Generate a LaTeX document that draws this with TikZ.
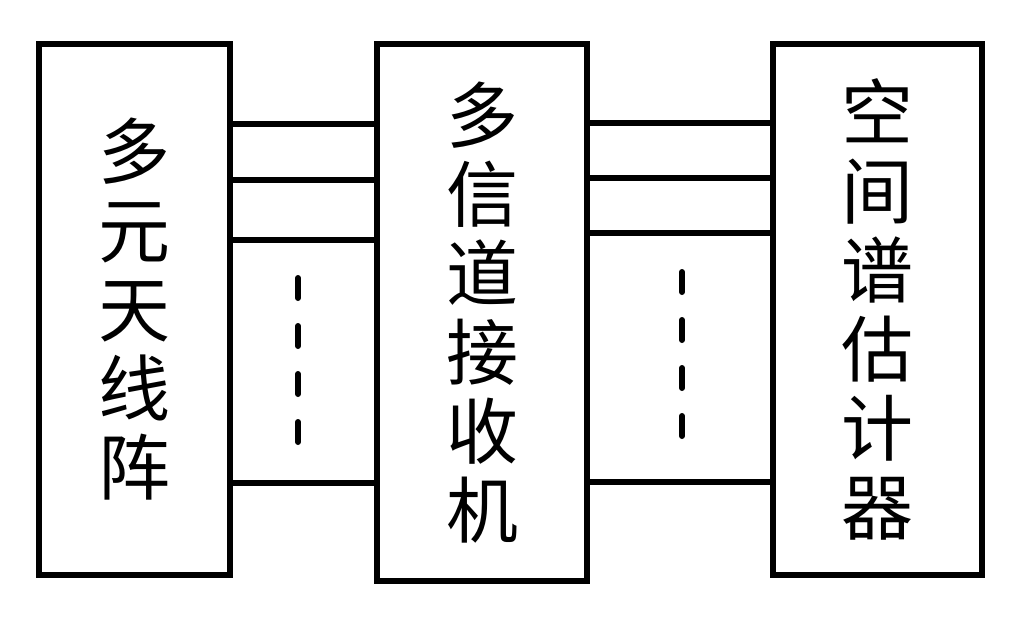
\documentclass[tikz,border=0pt]{standalone}
\usepackage{fontspec}
\setmainfont{Noto Sans CJK SC}
\usetikzlibrary{positioning}

\begin{document}
\begin{tikzpicture}[x=0.5pt, y=-0.5pt,
  blk/.style={draw=black, line width=3pt, inner sep=0pt, align=center,
              font=\fontsize{36}{39.5}\selectfont},
  lnk/.style={line width=3pt},
  dots/.style={line width=3pt, line cap=round, dash pattern=on 10pt off 14pt}]
  \useasboundingbox (0,0) rectangle (1024,618);
  \node[blk, minimum width=95.5pt, minimum height=265.5pt] (ant) at (134.5,309.5)
    {多\\元\\天\\线\\阵};
  \node[blk, minimum width=105pt, minimum height=268.5pt] (rcv) at (482,312.5)
    {多\\信\\道\\接\\收\\机};
  \node[blk, minimum width=104.5pt, minimum height=265.5pt] (est) at (877.5,309.5)
    {空\\间\\谱\\估\\计\\器};
  % channels between array and receiver
  \foreach \y in {124,180,240,483}
    \draw[lnk] (ant.east |- 0,\y) -- (rcv.west |- 0,\y);
  % channels between receiver and estimator
  \foreach \y in {123,178,233,482}
    \draw[lnk] (rcv.east |- 0,\y) -- (est.west |- 0,\y);
  \coordinate (la) at (298,278);
  \coordinate (lb) at (298,447);
  \coordinate (ra) at (682,272);
  \coordinate (rb) at (682,442);
  \draw[dots] (la) -- (lb);
  \draw[dots] (ra) -- (rb);
\end{tikzpicture}
\end{document}
